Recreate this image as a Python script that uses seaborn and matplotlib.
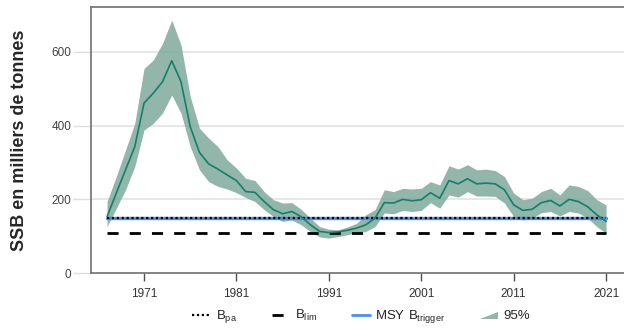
import numpy as np
import pandas as pd
import matplotlib
matplotlib.use("Agg")
import matplotlib.pyplot as plt
import matplotlib.patches as mpatches
from matplotlib.lines import Line2D
from matplotlib.legend_handler import HandlerPatch
import seaborn as sns

# Data (SSB, thousand tonnes)
years = list(range(1967, 2022))
ssb = [153, 217, 280, 343, 461, 488, 519, 576, 519, 397,
       327, 296, 282, 266, 251, 221, 219, 194, 172, 161,
       167, 153, 131, 113, 110, 112, 116, 122, 131, 149,
       191, 190, 200, 196, 199, 218, 203, 251, 242, 256,
       242, 244, 242, 226, 185, 170, 173, 191, 197, 182,
       200, 194, 180, 158, 140]
ssb_high = [194, 262, 334, 406, 555, 578, 623, 686, 619, 479,
            393, 366, 343, 307, 285, 257, 251, 221, 199, 190,
            191, 173, 149, 126, 119, 117, 125, 135, 158, 172,
            226, 221, 230, 228, 230, 248, 239, 291, 282, 294,
            280, 282, 278, 262, 217, 199, 203, 221, 230, 212,
            239, 235, 224, 199, 185]
ssb_low = [126, 176, 226, 289, 388, 406, 434, 483, 434, 343,
           280, 248, 235, 228, 218, 205, 194, 172, 153, 140,
           144, 131, 113, 98, 95, 99, 104, 110, 113, 126,
           163, 161, 170, 167, 170, 191, 176, 212, 206, 221,
           209, 209, 208, 190, 153, 144, 149, 164, 167, 155,
           167, 163, 149, 126, 108]
b_pa = 149
b_lim = 108
msy_btrigger = 149
x_ticks = [1971, 1981, 1991, 2001, 2011, 2021]
y_ticks = [0, 200, 400, 600]

df = pd.DataFrame({"year": years, "ssb": ssb, "low": ssb_low, "high": ssb_high})

sns.set_style("white")
plt.rcParams["font.family"] = ["Liberation Sans", "DejaVu Sans"]

line_col = "#13806a"
band_col = "#7fa99a"

fig = plt.figure(figsize=(6.24, 3.29), dpi=100)
ax = fig.add_axes([0.1458, 0.170, 0.86, 0.809])

for y in y_ticks[1:]:
    ax.axhline(y, color="#e3e3e3", lw=1.2, zorder=0)

ax.fill_between(df["year"], df["low"], df["high"], color=band_col, alpha=0.85, lw=0, zorder=1)

ref = pd.DataFrame({"year": [years[0], years[-1]]})
ax.plot(ref["year"], [msy_btrigger] * 2, color="#4a8ff0", lw=2.4, zorder=2)
ax.plot(ref["year"], [b_pa] * 2, color="black", lw=1.6, ls=(0, (1, 1.2)), zorder=3)
ax.plot(ref["year"], [b_lim] * 2, color="black", lw=2.0, ls=(0, (4, 4)), zorder=3)

sns.lineplot(data=df, x="year", y="ssb", color=line_col, lw=1.2, ax=ax, zorder=4)

ax.set_xlim(1965.26, 2023.33)
ax.set_ylim(0, 722)
ax.set_xticks(x_ticks)
ax.set_yticks(y_ticks)
ax.set_xlabel("")
ax.set_ylabel("SSB en milliers de tonnes", fontsize=13, fontweight="bold", labelpad=17)

for s in ["left", "top", "bottom"]:
    ax.spines[s].set_color("#707070")
    ax.spines[s].set_linewidth(1.2)
ax.spines["right"].set_visible(False)

ax.tick_params(axis="x", bottom=True, length=6, width=1, color="#505050",
               labelsize=8.5, labelcolor="#333333", pad=5)
ax.tick_params(axis="y", left=True, length=13, width=1, color="#dddddd",
               labelsize=8.5, labelcolor="#444444", pad=1)


def wedge(legend, orig_handle, xdescent, ydescent, width, height, fontsize):
    return mpatches.Polygon([[-xdescent, -ydescent + 0.5],
                             [width - xdescent, -ydescent + 0.5],
                             [width - xdescent, 0.75 * height - ydescent]], closed=True)


handles = [
    Line2D([], [], color="black", lw=1.6, ls=(0, (1, 1.2))),
    Line2D([], [], color="black", lw=2.0, ls=(0, (4, 4))),
    Line2D([], [], color="#4a8ff0", lw=2.0),
    mpatches.Patch(color=band_col, alpha=0.85, lw=0),
]
labels = [r"$\mathregular{B_{pa}}$", r"$\mathregular{B_{lim}}$",
          r"$\mathregular{MSY\ B_{trigger}}$", "95%"]
fig.legend(handles, labels, ncol=4, frameon=False, fontsize=9.5,
           loc="center", bbox_to_anchor=(0.579, 0.037),
           handlelength=1.4, handletextpad=0.4, columnspacing=2.6,
           handler_map={mpatches.Patch: HandlerPatch(patch_func=wedge)})

fig.savefig("out.png", dpi=100)
